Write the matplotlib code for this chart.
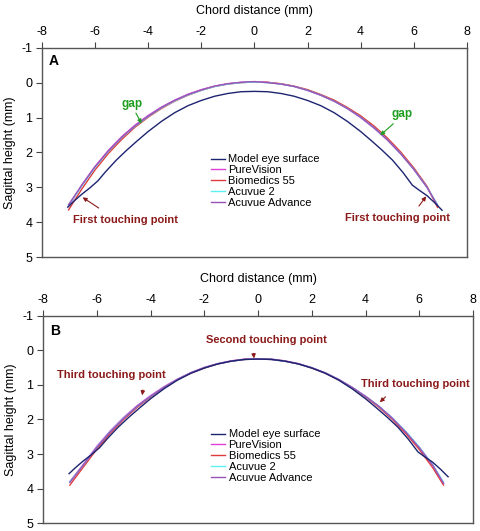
import matplotlib
matplotlib.use("Agg")
import matplotlib.pyplot as plt

plt.rcParams['font.family'] = ['Liberation Sans', 'DejaVu Sans']
plt.rcParams['axes.unicode_minus'] = False

# ---------------- data ----------------
eye_x = [-7.03, -6.8, -6.5, -6.2, -5.9, -5.6, -5.2, -4.8, -4.4, -4.0, -3.5, -3.0, -2.5,
         -2.0, -1.5, -1.0, -0.5, 0.0, 0.5, 1.0, 1.5, 2.0, 2.5, 3.0, 3.5, 4.0, 4.4, 4.8,
         5.2, 5.6, 5.95, 6.2, 6.5, 6.8, 7.07]
eye_y = [3.57, 3.40, 3.20, 3.02, 2.82, 2.55, 2.22, 1.93, 1.66, 1.40, 1.11, 0.86, 0.66,
         0.51, 0.39, 0.31, 0.26, 0.25, 0.26, 0.31, 0.39, 0.51, 0.66, 0.86, 1.11, 1.40, 1.66, 1.93,
         2.22, 2.58, 2.94, 3.08, 3.24, 3.45, 3.66]

lens_x = [-7.0, -6.5, -6.0, -5.5, -5.0, -4.5, -4.0, -3.5, -3.0, -2.5, -2.0, -1.5, -1.0, -0.5,
          0.0, 0.5, 1.0, 1.5, 2.0, 2.5, 3.0, 3.5, 4.0, 4.5, 5.0, 5.5, 6.0, 6.5, 6.9]

# Panel A (lens on eye, before settling)
a_pure = [3.55, 2.93, 2.40, 1.94, 1.55, 1.22, 0.94, 0.70, 0.50, 0.33, 0.20, 0.10, 0.03, -0.01,
          -0.03, -0.01, 0.04, 0.11, 0.22, 0.36, 0.53, 0.74, 1.00, 1.30, 1.64, 2.03, 2.48, 3.00, 3.53]
a_bio = [3.65, 3.05, 2.50, 2.03, 1.63, 1.28, 0.99, 0.74, 0.53, 0.36, 0.22, 0.11, 0.04, 0.00,
         -0.02, -0.01, 0.03, 0.10, 0.20, 0.34, 0.50, 0.71, 0.95, 1.24, 1.58, 1.98, 2.44, 2.97, 3.58]
a_acu2 = [3.52, 2.96, 2.43, 1.97, 1.58, 1.25, 0.97, 0.72, 0.52, 0.35, 0.22, 0.11, 0.04, 0.00,
          -0.02, 0.00, 0.04, 0.11, 0.22, 0.36, 0.53, 0.74, 0.99, 1.29, 1.63, 2.03, 2.48, 3.00, 3.50]
a_adv = [3.50, 2.94, 2.41, 1.96, 1.57, 1.24, 0.96, 0.71, 0.51, 0.34, 0.21, 0.10, 0.03, -0.01,
         -0.03, 0.00, 0.04, 0.11, 0.22, 0.36, 0.53, 0.74, 0.99, 1.29, 1.63, 2.03, 2.48, 3.00, 3.52]

# Panel B (after settling)
b_pure = [3.80, 3.30, 2.78, 2.33, 1.94, 1.60, 1.31, 1.05, 0.83, 0.64, 0.49, 0.38, 0.30, 0.25,
          0.24, 0.25, 0.30, 0.38, 0.50, 0.65, 0.84, 1.07, 1.33, 1.62, 1.96, 2.36, 2.81, 3.32, 3.84]
b_bio = [3.90, 3.38, 2.86, 2.40, 2.00, 1.65, 1.35, 1.08, 0.85, 0.66, 0.51, 0.39, 0.31, 0.26,
         0.25, 0.26, 0.31, 0.39, 0.51, 0.66, 0.85, 1.08, 1.35, 1.65, 2.00, 2.41, 2.87, 3.40, 3.90]
b_acu2 = [3.80, 3.32, 2.80, 2.35, 1.96, 1.62, 1.33, 1.07, 0.84, 0.65, 0.50, 0.39, 0.31, 0.26,
          0.25, 0.26, 0.31, 0.39, 0.50, 0.65, 0.84, 1.07, 1.33, 1.62, 1.96, 2.35, 2.80, 3.32, 3.82]
b_adv = [3.82, 3.32, 2.81, 2.36, 1.97, 1.62, 1.33, 1.07, 0.84, 0.65, 0.50, 0.39, 0.31, 0.26,
         0.25, 0.26, 0.31, 0.39, 0.50, 0.65, 0.84, 1.07, 1.33, 1.62, 1.97, 2.37, 2.82, 3.33, 3.85]

labels = ["Model eye surface", "PureVision", "Biomedics 55", "Acuvue 2", "Acuvue Advance"]
colors = ["#1c2470", "#e040d8", "#e03a3a", "#5ef0f0", "#9a52b8"]

xticks = [-8, -6, -4, -2, 0, 2, 4, 6, 8]
yticks = [-1, 0, 1, 2, 3, 4, 5]

maroon = "#8b1a1a"
green = "#1f9e1f"

fig = plt.figure(figsize=(4.8, 5.31), dpi=100)
axA = fig.add_axes([0.0875, 0.516, 0.885, 0.394])
axB = fig.add_axes([0.0896, 0.015, 0.896, 0.390])


def style(ax):
    ax.set_xlim(-8, 8)
    ax.set_ylim(5, -1)
    ax.set_xticks(xticks)
    ax.set_yticks(yticks)
    ax.xaxis.tick_top()
    ax.xaxis.set_label_position('top')
    ax.set_xlabel("Chord distance (mm)", fontsize=9, labelpad=9)
    ax.set_ylabel("Sagittal height (mm)", fontsize=9, labelpad=4)
    ax.tick_params(labelsize=9, length=4, width=0.8, color="#444444", direction='out', pad=3)
    for s in ax.spines.values():
        s.set_color("#555555")
        s.set_linewidth(1.0)


def draw(ax, series):
    ax.plot(eye_x, eye_y, color=colors[0], lw=1.0, label=labels[0], zorder=5,
            solid_joinstyle='round')
    for ys, c, lab in zip(series, colors[1:], labels[1:]):
        ax.plot(lens_x, ys, color=c, lw=1.0, label=lab, solid_joinstyle='round')


style(axA)
style(axB)
draw(axA, [a_pure, a_bio, a_acu2, a_adv])
draw(axB, [b_pure, b_bio, b_acu2, b_adv])

for ax, pos in ((axA, (0.397, 0.49)), (axB, (0.39, 0.452))):
    h, l = ax.get_legend_handles_labels()
    ax.legend(h, l, loc='upper left', bbox_to_anchor=pos, frameon=False, fontsize=8,
              handlelength=1.3, handletextpad=0.3, labelspacing=0.08, borderpad=0,
              borderaxespad=0)

axA.text(-7.75, -0.62, "A", fontsize=10, fontweight='bold', va='center', ha='left')
axB.text(-7.75, -0.55, "B", fontsize=10, fontweight='bold', va='center', ha='left')

ann = dict(fontsize=8, fontweight='bold', ha='center', va='center')
gap_kw = dict(fontsize=8.5, fontweight='bold', ha='center', va='center')


def arrow(color, shrinkA=4, relpos=(0.5, 0.5)):
    return dict(arrowstyle='-|>', color=color, lw=0.8, mutation_scale=6,
                shrinkA=shrinkA, shrinkB=0, relpos=relpos)


# Panel A annotations
axA.annotate("gap", xy=(-4.25, 1.17), xytext=(-4.6, 0.62), color=green,
             arrowprops=arrow(green, 0, (0.6, 0)), **gap_kw)
axA.annotate("gap", xy=(4.74, 1.51), xytext=(5.55, 0.9), color=green,
             arrowprops=arrow(green, 1, (0.3, 0)), **gap_kw)
axA.annotate("First touching point", xy=(-6.47, 3.29), xytext=(-4.85, 3.95), color=maroon,
             arrowprops=arrow(maroon, 6, (0.35, 1)), **ann)
axA.annotate("First touching point", xy=(6.47, 3.26), xytext=(5.4, 3.89), color=maroon,
             arrowprops=arrow(maroon, 4, (0.65, 1)), **ann)
# Panel B annotations
axB.annotate("Second touching point", xy=(-0.15, 0.23), xytext=(0.3, -0.3), color=maroon,
             arrowprops=arrow(maroon, 4, (0.39, 0)), **ann)
axB.annotate("Third touching point", xy=(-4.31, 1.3), xytext=(-5.45, 0.72), color=maroon,
             arrowprops=arrow(maroon, 5, (0.8, 0)), **ann)
axB.annotate("Third touching point", xy=(4.53, 1.5), xytext=(5.85, 0.98), color=maroon,
             arrowprops=arrow(maroon, 5, (0.3, 0)), **ann)

fig.savefig("out.png", dpi=100)
